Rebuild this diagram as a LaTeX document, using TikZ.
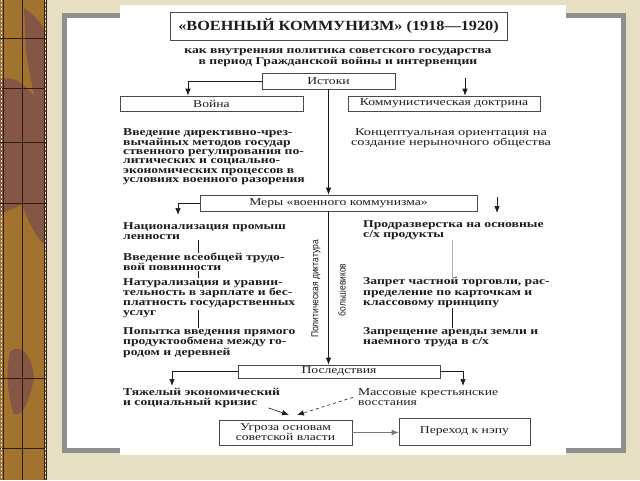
\documentclass[tikz,border=0pt]{standalone}
\usepackage{fontspec}
\setmainfont{Liberation Serif}
\newfontfamily\scanfont[FakeStretch=1.3]{Liberation Serif}
\newfontfamily\titlefont[FakeStretch=1.16]{Liberation Serif}
\newfontfamily\narrowsans[FakeStretch=0.85]{Liberation Sans}
\usetikzlibrary{arrows.meta}
\definecolor{beige}{HTML}{E7DFC4}
\definecolor{beigelight}{HTML}{EFE7CF}
\definecolor{wood}{HTML}{A2722F}
\definecolor{wooddark}{HTML}{835646}
\definecolor{woodline}{HTML}{2E1C0E}
\definecolor{framegray}{HTML}{8F8F8F}
\definecolor{ink}{HTML}{1C1C1C}
\begin{document}
\begin{tikzpicture}[x=1pt,y=-1pt,
  box/.style={draw=ink!80, line width=0.7pt, inner sep=0pt, text=ink,
    font=\scanfont\fontsize{10.5}{10}\selectfont},
  item/.style={align=left, inner sep=0pt, anchor=north west, text=ink,
    font=\scanfont\bfseries\fontsize{10.5}{10.3}\selectfont},
  itemreg/.style={align=left, inner sep=0pt, anchor=north west, text=ink,
    font=\scanfont\fontsize{10.5}{10.3}\selectfont},
  plain/.style={align=center, inner sep=0pt, text=ink,
    font=\scanfont\fontsize{10.5}{10}\selectfont},
  vert/.style={rotate=90, inner sep=0pt, text=ink,
    font=\narrowsans\fontsize{10}{10}\selectfont},
  arr/.style={draw=ink, line width=0.7pt, -{Latex[length=7pt,width=5.5pt]}},
  link/.style={draw=ink, line width=0.8pt},
  faint/.style={draw=ink!35, line width=0.6pt}
]
\useasboundingbox (0,0) rectangle (640,480);
% ---------- background ----------
\fill[beige] (0,0) rectangle (640,480);
% wood strip
\fill[wood] (0,0) rectangle (46,480);
\fill[wooddark] (24,8) .. controls (34,15) and (46,25) .. (46,40) -- (46,130)
  .. controls (38,115) and (30,80) .. (26,50) -- cycle;
\fill[wooddark] (0,80) .. controls (15,72) and (30,90) .. (46,110) -- (46,245)
  .. controls (36,240) and (26,215) .. (22,205) .. controls (12,208) and (5,212) .. (0,215) -- cycle;
\fill[wooddark] (10,352) .. controls (20,342) and (32,355) .. (34,378)
  .. controls (30,400) and (22,418) .. (14,414) .. controls (7,395) and (6,370) .. (10,352) -- cycle;
\draw[woodline, line width=0.7pt] (3,0) -- (3,480) (22.5,0) -- (22.5,480) (44,0) -- (44,480);
\foreach \yy in {38,88,142,203,378,448} \draw[woodline, line width=0.7pt] (0,\yy) -- (46,\yy);
\draw[beigelight, dash pattern=on 1.5pt off 2.5pt, line width=0.8pt] (1,0) -- (1,480) (45.3,0) -- (45.3,480);
\draw[woodline, line width=1pt] (46.5,0) -- (46.5,480);
% frame and scan
\fill[framegray] (62,13) rectangle (626,453);
\fill[white] (67,18) rectangle (621,448);
\fill[white] (120,5) rectangle (566,455);

% ---------- diagram ----------
\node[draw=ink!80, line width=0.8pt, minimum width=337pt, minimum height=28pt, inner sep=0pt,
  text=ink, font=\titlefont\bfseries\fontsize{14}{14}\selectfont] (title) at (338.5,26)
  {«ВОЕННЫЙ КОММУНИЗМ» (1918—1920)};
\node[plain, font=\scanfont\bfseries\fontsize{10.5}{11}\selectfont] (sub) at (338,57.5)
  {как внутренняя политика советского государства\\в период Гражданской войны и интервенции};

\node[box, minimum width=133pt, minimum height=16pt] (istoki) at (328.5,81) {Истоки};
\node[box, minimum width=183pt, minimum height=15pt] (voina) at (211.5,103.5) {Война};
\node[box, minimum width=192pt, minimum height=15pt] (komm) at (444,103.5) {Коммунистическая доктрина};

\node[item, font=\scanfont\bfseries\fontsize{10.5}{9.2}\selectfont] (vvedenie) at (123,128)
  {Введение директивно-чрез-\\вычайных методов государ\\ственного регулирования по-\\литических и социально-\\экономических процессов в\\условиях военного разорения};
\node[plain, font=\scanfont\fontsize{10.5}{10}\selectfont] (konts) at (451,138)
  {\addfontfeature{FakeStretch=1.37}Концептуальная ориентация на\\\addfontfeature{FakeStretch=1.37}создание нерыночного общества};

\node[box, minimum width=277pt, minimum height=16pt] (mery) at (338.5,203) {Меры «военного коммунизма»};

\node[item] (nac) at (123,222.5) {Национализация промыш\\ленности};
\node[item] (vved) at (123,252.5) {Введение всеобщей трудо-\\вой повинности};
\node[item] (natur) at (123,278) {Натурализация и уравни-\\тельность в зарплате и бес-\\платность государственных\\услуг};
\node[item] (popyt) at (123,327.5) {Попытка введения прямого\\продуктообмена между го-\\родом и деревней};

\node[item] (prod) at (363,220.5) {Продразверстка на основные\\с/х продукты};
\node[item] (zapret) at (363,277.5) {Запрет частной торговли, рас-\\пределение по карточкам и\\классовому принципу};
\node[item] (zapresh) at (363,327.5) {Запрещение аренды земли и\\наемного труда в с/х};

\node[vert] (polit) at (316,289) {Политическая диктатура};
\node[vert] (bolsh) at (342,290) {большевиков};

\node[box, minimum width=202pt, minimum height=13pt] (posl) at (339,371.5) {Последствия};

\node[item, font=\scanfont\bfseries\fontsize{10.5}{9.5}\selectfont] (tyazh) at (123,388.5) {Тяжелый экономический\\и социальный кризис};
\node[itemreg] (massov) at (358,388.5) {Массовые крестьянские\\восстания};

\node[box, align=center, minimum width=133pt, minimum height=25pt] (ugroza) at (285.5,432.5) {Угроза основам\\советской власти};
\node[box, minimum width=131pt, minimum height=27pt] (perehod) at (464.5,431.5) {Переход к нэпу};

% ---------- connectors ----------
\coordinate (xa) at (188,0);
\coordinate (xb) at (465,78);
\coordinate (xm1) at (178,215);
\coordinate (xm2a) at (497,197);
\coordinate (xm2b) at (497,213);
\coordinate (lx) at (198,0);
\coordinate (rx) at (452,0);
\coordinate (xp1) at (172,386);
\coordinate (xp2) at (463,386);
\coordinate (u1) at (289,415);
\coordinate (u2) at (297,415);

\draw[arr] (istoki.west) -| (voina.north -| xa);
\draw[arr] (xb) -- (komm.north -| xb);
\draw[arr] (istoki.south) -- (mery.north -| istoki.south);
\draw[arr] (mery.west) -| (xm1);
\draw[arr] (xm2a) -- (xm2b);
\draw[arr] (mery.south -| istoki.south) -- (posl.north -| istoki.south);

\draw[link] (nac.south -| lx) -- (vved.north -| lx);
\draw[link] (vved.south -| lx) -- (natur.north -| lx);
\draw[link] ([yshift=8pt]natur.south -| lx) -- (popyt.north -| lx);
\draw[faint] (prod.south -| rx) -- (zapret.north -| rx);
\draw[link] (zapret.south -| rx) -- (zapresh.north -| rx);

\draw[arr] (posl.west) -| (xp1);
\draw[arr] (posl.east) -| (xp2);

\draw[arr, line width=0.6pt] ([xshift=-12pt]tyazh.south east) -- (u1);
\draw[arr, line width=0.6pt, dashed] ([xshift=-5pt]massov.west) -- (u2);
\draw[arr, draw=ink!60] (ugroza.east) -- (ugroza.east -| perehod.west);
\end{tikzpicture}
\end{document}
